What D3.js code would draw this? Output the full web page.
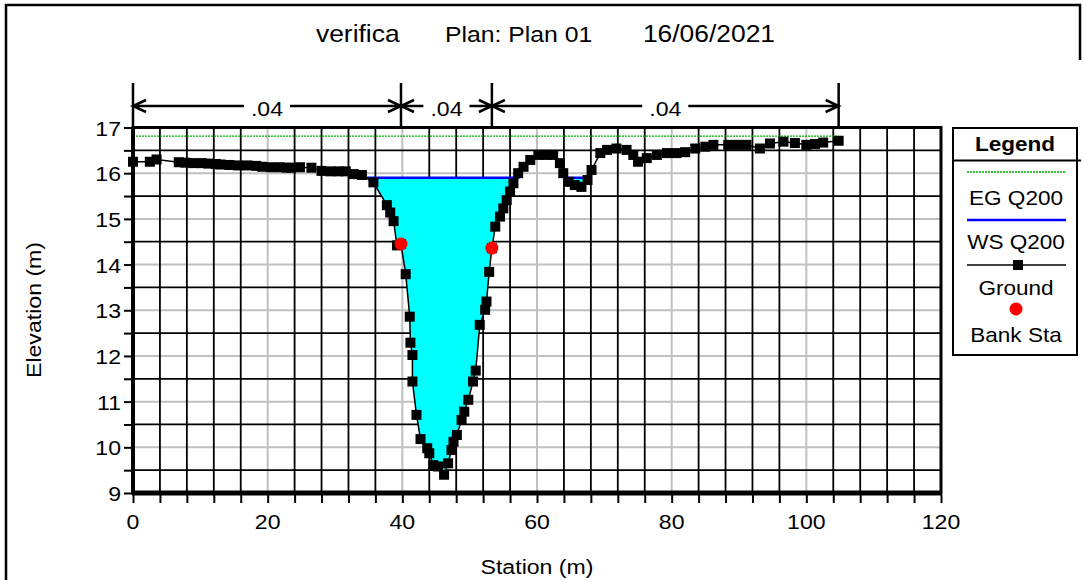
<!DOCTYPE html>
<html>
<head>
<meta charset="utf-8">
<script src="https://cdn.jsdelivr.net/npm/d3@7"></script>
<style>
  body { margin: 0; background: #fff; }
  svg text { font-family: "Liberation Sans", Arial, sans-serif; fill: #000; }
</style>
</head>
<body>
<div id="chart"></div>
<script>
// ground profile
const station = [0, 2.5, 3.5, 6.8, 7.8, 9.0, 10.2, 11.2, 12.3, 13.0, 14.3, 15.6, 17.0, 18.3,
  19.2, 20.5, 21.8, 22.8, 23.5, 24.8, 26.5, 28.0, 29.3, 30.5, 31.6, 32.8, 34.0, 35.7,
  37.7, 38.2, 38.7, 39.2, 39.8, 40.5, 41.1, 41.2, 41.5, 41.5, 42.1, 42.7, 43.7, 44.0,
  44.6, 45.3, 46.2, 46.8, 47.3, 47.6, 48.1, 48.8, 49.2, 49.8, 50.5, 50.9, 51.5, 52.3,
  52.5, 52.9, 53.3, 53.8, 54.5, 55.0, 55.5, 56.0, 56.5, 57.2, 58.0, 59.0, 60.2, 61.3,
  62.4, 63.4, 63.9, 64.7, 65.6, 66.6, 67.5, 68.1, 69.4, 70.4, 71.8, 73.3, 74.3, 75.0,
  76.3, 77.8, 79.3, 80.7, 82.0, 83.5, 85.0, 86.2, 88.4, 89.8, 91.1, 93.1, 94.6, 96.6,
  98.3, 100.0, 101.3, 102.5, 104.8];
const elevation = [16.25, 16.25, 16.30, 16.24, 16.23, 16.22, 16.22, 16.21, 16.20, 16.19, 16.18, 16.17, 16.17, 16.16,
  16.14, 16.13, 16.13, 16.12, 16.12, 16.13, 16.12, 16.05, 16.04, 16.04, 16.04, 15.98, 15.96, 15.80,
  15.30, 15.14, 14.95, 14.42, 14.45, 13.79, 12.86, 12.29, 12.02, 11.44, 10.71, 10.18, 9.98, 9.87,
  9.61, 9.58, 9.40, 9.65, 9.94, 10.12, 10.27, 10.60, 10.78, 11.04, 11.44, 11.68, 12.68, 13.01,
  13.19, 13.84, 14.36, 14.83, 15.05, 15.23, 15.41, 15.60, 15.78, 16.00, 16.14, 16.29, 16.40, 16.40,
  16.40, 16.22, 16.00, 15.81, 15.74, 15.70, 15.85, 16.07, 16.44, 16.51, 16.54, 16.51, 16.40, 16.25,
  16.33, 16.40, 16.44, 16.44, 16.46, 16.54, 16.58, 16.62, 16.62, 16.62, 16.62, 16.54, 16.65, 16.69,
  16.66, 16.62, 16.64, 16.67, 16.71];

const bankStation = [39.8, 53.3];
const bankElevation = [14.45, 14.36];
const egElevation = 16.81;
const egExtent = [0, 104.8];
const wsElevation = 15.9;
const wsSegments = [[34.0, 57.4], [64.6, 67.1]];
const roughnessBreaks = [0, 39.8, 53.3, 104.8];
const roughnessValues = [".04", ".04", ".04"];
const xTicks = [0, 20, 40, 60, 80, 100, 120];
const yTicks = [9, 10, 11, 12, 13, 14, 15, 16, 17];
const legendItems = ["EG Q200", "WS Q200", "Ground", "Bank Sta"];

const width = 1084, height = 580;
const pL = 133, pR = 941, pT = 127.5, pB = 493;

const x = d3.scaleLinear().domain([0, 120]).range([pL, pR]);
const y = d3.scaleLinear().domain([9, 17]).range([pB, pT]);

const svg = d3.select('#chart').append('svg')
  .attr('width', width).attr('height', height);

// stretched text, the source picture is a bit wider than it is tall
function label(g, tx, ty, str, size, anchor, weight) {
  return g.append('text')
    .attr('transform', 'translate(' + tx + ',' + ty + ') scale(1.1,1)')
    .attr('text-anchor', anchor || 'start')
    .attr('font-size', size)
    .attr('font-weight', weight || 'normal')
    .text(str);
}

// outer frame
svg.append('path').attr('d', 'M6,590 V5 H1080 V60').attr('fill', 'none')
  .attr('stroke', '#000').attr('stroke-width', 2.5);

// title
label(svg, 316, 42, 'verifica', 24);
label(svg, 445, 42, 'Plan: Plan 01', 22.5);
label(svg, 775, 42, '16/06/2021', 24, 'end');

// grid
const minorX = d3.range(0, 121, 4).filter(d => d % 20 !== 0);
const minorY = d3.range(9.5, 17, 1);
svg.append('g').selectAll('line').data(xTicks).enter().append('line')
  .attr('x1', d => x(d)).attr('x2', d => x(d)).attr('y1', pT).attr('y2', pB)
  .attr('stroke', '#c0c0c0').attr('stroke-width', 2);
svg.append('g').selectAll('line').data(yTicks).enter().append('line')
  .attr('x1', pL).attr('x2', pR).attr('y1', d => y(d)).attr('y2', d => y(d))
  .attr('stroke', '#c0c0c0').attr('stroke-width', 2);
svg.append('g').selectAll('line').data(minorX).enter().append('line')
  .attr('x1', d => x(d)).attr('x2', d => x(d)).attr('y1', pT).attr('y2', pB)
  .attr('stroke', '#000').attr('stroke-width', 1.8);
svg.append('g').selectAll('line').data(minorY).enter().append('line')
  .attr('x1', pL).attr('x2', pR).attr('y1', d => y(d)).attr('y2', d => y(d))
  .attr('stroke', '#000').attr('stroke-width', 1.8);

// water fill
const ground = station.map((s, i) => ({s: s, z: elevation[i]}));
const water = svg.append('g');
wsSegments.forEach(seg => {
  const pts = ground.filter(p => p.s >= seg[0] - 1 && p.s <= seg[1] + 1);
  water.append('path').datum(pts)
    .attr('d', d3.area().x(p => x(Math.min(Math.max(p.s, seg[0]), seg[1])))
      .y0(p => y(Math.min(p.z, wsElevation))).y1(y(wsElevation)))
    .attr('fill', '#00ffff');
});

// EG line
svg.append('line')
  .attr('x1', x(egExtent[0])).attr('x2', x(egExtent[1]))
  .attr('y1', y(egElevation)).attr('y2', y(egElevation))
  .attr('stroke', '#00b000').attr('stroke-width', 1.3).attr('stroke-dasharray', '2,1');

// WS lines
svg.append('g').selectAll('line').data(wsSegments).enter().append('line')
  .attr('x1', d => x(d[0])).attr('x2', d => x(d[1]))
  .attr('y1', y(wsElevation)).attr('y2', y(wsElevation))
  .attr('stroke', '#0000ff').attr('stroke-width', 2.5);

// ground line + markers
svg.append('path').datum(ground)
  .attr('d', d3.line().x(p => x(p.s)).y(p => y(p.z)))
  .attr('fill', 'none').attr('stroke', '#000').attr('stroke-width', 1.5);
const ms = 10;
svg.append('g').selectAll('rect').data(ground).enter().append('rect')
  .attr('x', p => x(p.s) - ms / 2).attr('y', p => y(p.z) - ms / 2)
  .attr('width', ms).attr('height', ms).attr('fill', '#000');

// bank stations
svg.append('g').selectAll('circle').data(bankStation).enter().append('circle')
  .attr('cx', d => x(d)).attr('cy', (d, i) => y(bankElevation[i])).attr('r', 6.5)
  .attr('fill', '#ff0000');

// frame
svg.append('rect').attr('x', pL).attr('y', pT)
  .attr('width', pR - pL).attr('height', pB - pT)
  .attr('fill', 'none').attr('stroke', '#000').attr('stroke-width', 3);
svg.append('line').attr('x1', pL - 1).attr('x2', pR + 1).attr('y1', pB).attr('y2', pB)
  .attr('stroke', '#000').attr('stroke-width', 5);
svg.append('line').attr('x1', pL).attr('x2', pL).attr('y1', pT).attr('y2', pB)
  .attr('stroke', '#000').attr('stroke-width', 4);

// axes
const xAxis = d3.axisBottom(x).tickValues(d3.range(0, 121, 4)).tickSize(8).tickFormat('');
const gx = svg.append('g').attr('transform', 'translate(0,' + (pB + 2) + ')').call(xAxis);
gx.select('.domain').remove();
gx.selectAll('line').attr('stroke', '#000').attr('stroke-width', 2);
const yAxis = d3.axisLeft(y).tickValues(d3.range(9, 17.01, 0.5)).tickSize(8).tickFormat('');
const gy = svg.append('g').attr('transform', 'translate(' + (pL - 1) + ',0)').call(yAxis);
gy.select('.domain').remove();
gy.selectAll('line').attr('stroke', '#000').attr('stroke-width', 2);

const labels = svg.append('g');
xTicks.forEach(d => label(labels, x(d), 529, d, 21, 'middle'));
yTicks.forEach(d => label(labels, 121, y(d) + 8, d, 21, 'end'));

label(svg, 537, 574, 'Station (m)', 21, 'middle');
svg.append('text')
  .attr('transform', 'translate(41,310) rotate(-90) scale(1.1,1)')
  .attr('text-anchor', 'middle').attr('font-size', 21).text('Elevation (m)');

// roughness bar on top
const rb = svg.append('g');
const arrowY = 106;
rb.selectAll('line.brk').data(roughnessBreaks).enter().append('line')
  .attr('x1', d => x(d)).attr('x2', d => x(d)).attr('y1', 83).attr('y2', pT)
  .attr('stroke', '#000').attr('stroke-width', 2.5);
roughnessValues.forEach((v, i) => {
  const a = x(roughnessBreaks[i]), b = x(roughnessBreaks[i + 1]);
  const mid = (a + b) / 2;
  const t = label(rb, mid, arrowY + 10, v, 21, 'middle');
  const half = t.node().getComputedTextLength() * 1.1 / 2 + 7;
  const arrow = 'M' + a + ',' + arrowY + ' H' + (mid - half) + ' M' + (mid + half) + ',' + arrowY + ' H' + b +
    ' M' + (a + 13) + ',' + (arrowY - 6) + ' L' + a + ',' + arrowY + ' L' + (a + 13) + ',' + (arrowY + 6) +
    ' M' + (b - 13) + ',' + (arrowY - 6) + ' L' + b + ',' + arrowY + ' L' + (b - 13) + ',' + (arrowY + 6);
  rb.append('path').attr('d', arrow).attr('fill', 'none')
    .attr('stroke', '#000').attr('stroke-width', 2.5);
});

// legend
const lg = svg.append('g');
lg.append('rect').attr('x', 953).attr('y', 128).attr('width', 124).attr('height', 227)
  .attr('fill', '#fff').attr('stroke', '#000').attr('stroke-width', 2);
lg.append('line').attr('x1', 953).attr('x2', 1081).attr('y1', 160.5).attr('y2', 160.5)
  .attr('stroke', '#000').attr('stroke-width', 2);
label(lg, 1015, 151, 'Legend', 20.5, 'middle', 'bold');
lg.append('line').attr('x1', 967).attr('x2', 1066).attr('y1', 172).attr('y2', 172)
  .attr('stroke', '#00b000').attr('stroke-width', 1.3).attr('stroke-dasharray', '2,1');
lg.append('line').attr('x1', 967).attr('x2', 1066).attr('y1', 220).attr('y2', 220)
  .attr('stroke', '#0000ff').attr('stroke-width', 2.5);
lg.append('line').attr('x1', 967).attr('x2', 1066).attr('y1', 265).attr('y2', 265)
  .attr('stroke', '#000').attr('stroke-width', 1.5);
lg.append('rect').attr('x', 1018 - ms / 2).attr('y', 265 - ms / 2).attr('width', ms).attr('height', ms)
  .attr('fill', '#000');
lg.append('circle').attr('cx', 1016).attr('cy', 309).attr('r', 6.5).attr('fill', '#ff0000');
const legendY = [205, 249, 295, 342];
legendItems.forEach((t, i) => label(lg, 1016, legendY[i], t, 20.5, 'middle'));
</script>
</body>
</html>
